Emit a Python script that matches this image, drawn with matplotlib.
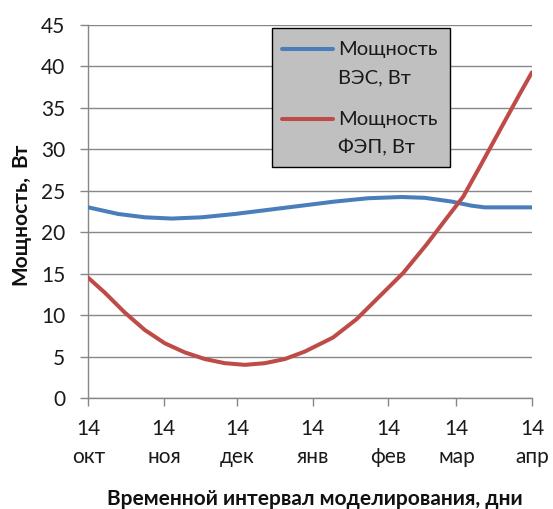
import matplotlib
matplotlib.use("Agg")
import matplotlib.pyplot as plt
from matplotlib.lines import Line2D
from matplotlib.patches import Rectangle

plt.rcParams['font.family'] = ['Lato', 'Open Sans', 'DejaVu Sans']

# Days since 14 Oct
tick_days = [0, 31, 61, 92, 123, 151, 182]
tick_labels = ["14\nокт", "14\nноя", "14\nдек", "14\nянв", "14\nфев", "14\nмар", "14\nапр"]

wind_days = [0, 12.3, 23.2, 34.2, 46.5, 60.1, 73.8, 87.5, 101.1, 114.8, 128.5, 138, 149, 157.2, 162.6, 182]
wind_power = [23.0, 22.2, 21.8, 21.65, 21.8, 22.2, 22.7, 23.2, 23.7, 24.1, 24.25, 24.15, 23.7, 23.2, 23.0, 23.0]

pv_days = [0, 6.8, 15, 23.2, 31.4, 39.6, 47.8, 56, 64.2, 72.4, 80.6, 88.8, 97, 100.4,
           110, 119.6, 129.2, 138.7, 147, 153.8, 160.6, 168.8, 177, 182]
pv_power = [14.5, 12.7, 10.3, 8.2, 6.6, 5.5, 4.7, 4.2, 4.0, 4.2, 4.7, 5.6, 6.8, 7.3,
            9.5, 12.3, 15.1, 18.5, 21.7, 24.3, 27.9, 32.3, 36.7, 39.3]

series_labels = [("Мощность", "ВЭС, Вт"), ("Мощность", "ФЭП, Вт")]
colors = ["#4a7ebb", "#be4b48"]

W, H = 553, 509
def fx(px):
    return px / W
def fy(py):
    return 1 - py / H

fig = plt.figure(figsize=(W / 100, H / 100), dpi=100)
ax = fig.add_axes([fx(88.3), fy(398), (532 - 88.3) / W, (398 - 25) / H])

lw = 2.9
ax.plot(wind_days, wind_power, color=colors[0], lw=lw, solid_capstyle='round', solid_joinstyle='round', zorder=3)
ax.plot(pv_days, pv_power, color=colors[1], lw=lw, solid_capstyle='round', solid_joinstyle='round', zorder=3)

ax.set_xlim(0, 182)
ax.set_ylim(0, 45)
ax.set_yticks(range(0, 46, 5))
ax.set_xticks(tick_days)
ax.set_xticklabels(tick_labels, linespacing=1.5)

gc = "#878787"
ax.yaxis.grid(True, color=gc, lw=1)
ax.set_axisbelow(True)
for s in ['top', 'right']:
    ax.spines[s].set_visible(False)
for s in ['left', 'bottom']:
    ax.spines[s].set_color(gc)
    ax.spines[s].set_linewidth(1)
ax.tick_params(axis='both', colors=gc, length=6, width=1, labelcolor='#1a1a1a', labelsize=15)
ax.tick_params(axis='x', pad=9)
ax.tick_params(axis='y', pad=10.5)

# Axis titles
fig.text(fx(314.5), fy(505), "Временной интервал моделирования, дни", fontsize=15,
         fontweight='bold', ha='center', va='baseline', color='#111111')
fig.text(fx(26), fy(285), "Мощность,", fontsize=15, fontweight='bold', rotation=90,
         rotation_mode='anchor', ha='left', va='baseline', color='#111111')
fig.text(fx(26), fy(143), "Вт", fontsize=15, fontweight='bold', rotation=90,
         rotation_mode='anchor', ha='right', va='baseline', color='#111111')

# Legend box
fig.add_artist(Rectangle((fx(271.7), fy(167.3)), (450 - 271.7) / W, (167.3 - 28.3) / H,
                         transform=fig.transFigure, facecolor='#c0c0c0', edgecolor='black',
                         lw=1, zorder=5))
entry_y = [48.5, 119]
for (l1, l2), c, yl in zip(series_labels, colors, entry_y):
    fig.add_artist(Line2D([fx(282), fx(333)], [fy(yl), fy(yl)], transform=fig.transFigure,
                          color=c, lw=lw, solid_capstyle='round', zorder=6))
    fig.text(fx(338.5), fy(yl + 6.5), l1, fontsize=14.5, ha='left', va='baseline',
             color='#1a1a1a', zorder=7)
    fig.text(fx(338.5), fy(yl + 34.5), l2, fontsize=14.5, ha='left', va='baseline',
             color='#1a1a1a', zorder=7)

fig.savefig("out.png", dpi=100)
